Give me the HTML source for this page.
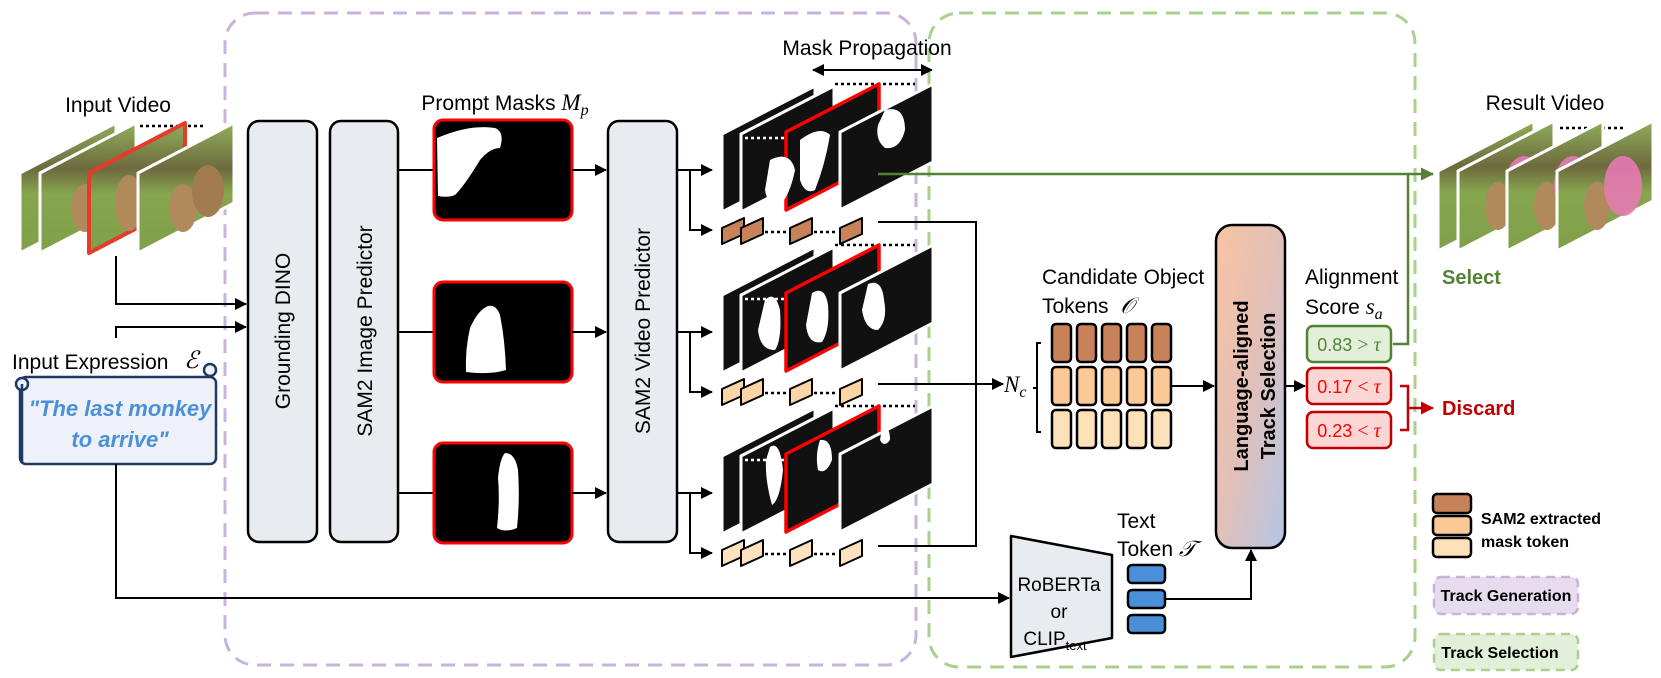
<!DOCTYPE html>
<html><head><meta charset="utf-8"><style>
html,body{margin:0;padding:0;background:#fff;}
svg{display:block;font-family:"Liberation Sans",sans-serif;}
</style></head><body>
<svg width="1661" height="678" viewBox="0 0 1661 678" xmlns="http://www.w3.org/2000/svg">
<defs>
<marker id="ah" markerWidth="12" markerHeight="12" refX="11" refY="6" orient="auto" markerUnits="userSpaceOnUse"><path d="M0,0 L12,6 L0,12 z" fill="#000"/></marker>
<marker id="ahs" markerWidth="12" markerHeight="12" refX="1" refY="6" orient="auto" markerUnits="userSpaceOnUse"><path d="M12,0 L0,6 L12,12 z" fill="#000"/></marker>
<marker id="ahg" markerWidth="13" markerHeight="13" refX="12" refY="6.5" orient="auto" markerUnits="userSpaceOnUse"><path d="M0,0 L13,6.5 L0,13 z" fill="#548235"/></marker>
<marker id="ahr" markerWidth="13" markerHeight="13" refX="12" refY="6.5" orient="auto" markerUnits="userSpaceOnUse"><path d="M0,0 L13,6.5 L0,13 z" fill="#c00000"/></marker>
<linearGradient id="tg" x1="0" y1="0" x2="1" y2="1"><stop offset="0" stop-color="#f8c3a2"/><stop offset="0.5" stop-color="#e2c0b8"/><stop offset="1" stop-color="#b3c6e6"/></linearGradient>
<linearGradient id="img" x1="0" y1="0" x2="0" y2="1"><stop offset="0" stop-color="#8fae5a"/><stop offset="0.35" stop-color="#6e6a3e"/><stop offset="0.55" stop-color="#86a64e"/><stop offset="1" stop-color="#7ea048"/></linearGradient>
<g id="frame"><polygon points="0,50 96,0 96,80 0,130" fill="url(#img)" stroke="#fff" stroke-width="3" stroke-linejoin="round"/><ellipse cx="45" cy="85" rx="14" ry="24" fill="#b08a5a"/><ellipse cx="70" cy="68" rx="16" ry="26" fill="#a27c50"/></g>
<g id="rframe"><polygon points="0,50 96,0 96,80 0,130" fill="url(#img)" stroke="#fff" stroke-width="3" stroke-linejoin="round"/><ellipse cx="40" cy="85" rx="13" ry="24" fill="#b08a5a"/><ellipse cx="66" cy="65" rx="19" ry="30" fill="#e57ab3" opacity="0.9"/></g>
<g id="mframe"><polygon points="0,48 93,0 93,78 0,126" fill="#111" stroke="#fff" stroke-width="3" stroke-linejoin="round"/></g>
</defs>

<rect x="225" y="13" width="691" height="652" rx="30" fill="none" stroke="#c9b3dc" stroke-width="3" stroke-dasharray="14,9"/>
<rect x="929" y="13" width="486" height="654" rx="30" fill="none" stroke="#a9d18e" stroke-width="3" stroke-dasharray="14,9"/>

<!-- Input video -->
<text x="118" y="112" font-size="21" text-anchor="middle">Input Video</text>
<line x1="140" y1="126" x2="205" y2="126" stroke="#000" stroke-width="2.5" stroke-dasharray="3,3"/>
<use href="#frame" x="20" y="123"/>
<use href="#frame" x="40" y="123"/>
<g transform="translate(89,123)"><polygon points="0,50 96,0 96,80 0,130" fill="url(#img)" stroke="#e83a2a" stroke-width="4" stroke-linejoin="round"/><ellipse cx="40" cy="80" rx="14" ry="28" fill="#b08a5a"/><ellipse cx="68" cy="65" rx="15" ry="26" fill="#a27c50"/></g>
<use href="#frame" x="138" y="123"/>

<polyline points="116,256 116,304 246,304" fill="none" stroke="#000" stroke-width="2" marker-end="url(#ah)"/>
<polyline points="116,338 116,327 246,327" fill="none" stroke="#000" stroke-width="2" marker-end="url(#ah)"/>

<!-- Input expression -->
<text x="12" y="369" font-size="21">Input Expression</text>
<text x="184" y="368" font-size="24" font-style="italic" font-family="Liberation Serif,serif">ℰ</text>
<rect x="20" y="377" width="196" height="87" rx="6" fill="#eef2f8" stroke="#1f3864" stroke-width="2.5"/>
<circle cx="22" cy="384" r="6" fill="#eef2f8" stroke="#1f3864" stroke-width="2.5"/>
<circle cx="210" cy="370" r="6" fill="#eef2f8" stroke="#1f3864" stroke-width="2.5"/>
<line x1="22" y1="384" x2="22" y2="462" stroke="#1f3864" stroke-width="2.5"/>
<text x="120" y="416" font-size="22" font-weight="bold" font-style="italic" fill="#4a90d9" text-anchor="middle">"The last monkey</text>
<text x="120" y="447" font-size="22" font-weight="bold" font-style="italic" fill="#4a90d9" text-anchor="middle">to arrive"</text>
<polyline points="116,464 116,598 1009,598" fill="none" stroke="#000" stroke-width="2" marker-end="url(#ah)"/>

<!-- main boxes -->
<rect x="248" y="121" width="69" height="421" rx="11" fill="#e8ebef" stroke="#000" stroke-width="2.5"/>
<text transform="translate(290,331) rotate(-90)" font-size="21" text-anchor="middle">Grounding DINO</text>
<rect x="330" y="121" width="68" height="421" rx="11" fill="#e8ebef" stroke="#000" stroke-width="2.5"/>
<text transform="translate(372,331) rotate(-90)" font-size="21" text-anchor="middle">SAM2 Image Predictor</text>
<rect x="608" y="121" width="69" height="421" rx="11" fill="#e8ebef" stroke="#000" stroke-width="2.5"/>
<text transform="translate(650,331) rotate(-90)" font-size="21" text-anchor="middle">SAM2 Video Predictor</text>

<!-- prompt masks -->
<text x="505" y="110" font-size="21" text-anchor="middle">Prompt Masks <tspan font-family="Liberation Serif,serif" font-style="italic" font-size="23">M</tspan><tspan font-family="Liberation Serif,serif" font-style="italic" font-size="16" dy="5">p</tspan></text>
<line x1="398" y1="170" x2="434" y2="170" stroke="#000" stroke-width="2"/>
<line x1="398" y1="332" x2="434" y2="332" stroke="#000" stroke-width="2"/>
<line x1="398" y1="493" x2="434" y2="493" stroke="#000" stroke-width="2"/>
<rect x="434" y="120" width="138" height="100" rx="9" fill="#000" stroke="#f00" stroke-width="3"/>
<path d="M437,138 Q470,124 495,128 Q505,132 500,148 Q490,148 480,160 Q465,185 455,195 Q448,198 438,196 Z" fill="#fff"/>
<rect x="434" y="282" width="138" height="100" rx="9" fill="#000" stroke="#f00" stroke-width="3"/>
<path d="M488,306 Q496,304 500,315 Q505,340 506,370 Q490,375 466,372 Q465,350 470,328 Q478,310 488,306 Z" fill="#fff"/>
<rect x="434" y="443" width="138" height="100" rx="9" fill="#000" stroke="#f00" stroke-width="3"/>
<path d="M505,453 Q515,453 518,470 Q520,500 517,528 Q505,533 497,528 Q500,500 498,478 Q500,458 505,453 Z" fill="#fff"/>
<line x1="572" y1="170" x2="606" y2="170" stroke="#000" stroke-width="2" marker-end="url(#ah)"/>
<line x1="572" y1="332" x2="606" y2="332" stroke="#000" stroke-width="2" marker-end="url(#ah)"/>
<line x1="572" y1="493" x2="606" y2="493" stroke="#000" stroke-width="2" marker-end="url(#ah)"/>

<!-- mask propagation -->
<text x="867" y="55" font-size="21" text-anchor="middle">Mask Propagation</text>
<line x1="813" y1="70" x2="932" y2="70" stroke="#000" stroke-width="2" marker-start="url(#ahs)" marker-end="url(#ah)"/>

<g id="stack">
<line x1="835" y1="84" x2="915" y2="84" stroke="#000" stroke-width="2.5" stroke-dasharray="3,3"/>
<use href="#mframe" x="722" y="86"/>
<use href="#mframe" x="741" y="86"/>
<line x1="745" y1="138" x2="835" y2="138" stroke="#fff" stroke-width="2.5" stroke-dasharray="3,3"/>
<g transform="translate(786,84)"><polygon points="0,48 93,0 93,78 0,126" fill="#111" stroke="#f00" stroke-width="3.5" stroke-linejoin="round"/></g>
<use href="#mframe" x="840" y="84"/>
</g>
<path d="M770,160 Q790,150 795,170 Q790,195 780,205 Q768,208 765,190 Z" fill="#fff"/>
<path d="M800,140 Q820,125 830,135 Q825,165 815,190 Q805,195 800,180 Z" fill="#fff"/>
<path d="M885,110 Q905,105 905,130 Q900,150 885,148 Q875,140 878,125 Z" fill="#fff"/>
<use href="#stack" y="161"/>
<path d="M765,300 Q775,290 780,310 Q782,340 775,350 Q760,350 758,330 Z" fill="#fff"/>
<path d="M812,293 Q825,285 828,305 Q830,330 822,342 Q808,345 806,325 Z" fill="#fff"/>
<path d="M868,284 Q882,278 884,300 Q888,320 878,330 Q865,330 862,310 Z" fill="#fff"/>
<use href="#stack" y="322"/>
<path d="M770,447 Q780,440 783,470 Q780,500 772,505 Q765,480 766,460 Z" fill="#fff"/>
<path d="M820,440 Q832,438 832,460 Q826,475 818,470 Q815,455 820,440 Z" fill="#fff"/>
<path d="M882,428 Q890,425 890,440 Q884,448 880,440 Z" fill="#fff"/>

<g stroke="#000" stroke-width="2" fill="none">
<line x1="677" y1="170" x2="712" y2="170" marker-end="url(#ah)"/>
<polyline points="690,170 690,230 712,230" marker-end="url(#ah)"/>
<line x1="677" y1="332" x2="712" y2="332" marker-end="url(#ah)"/>
<polyline points="690,332 690,392 712,392" marker-end="url(#ah)"/>
<line x1="677" y1="493" x2="712" y2="493" marker-end="url(#ah)"/>
<polyline points="690,493 690,553 712,553" marker-end="url(#ah)"/>
</g>

<g stroke="#000" stroke-width="2" stroke-linejoin="round" fill="#c8825a">
<polygon points="722,228 744,218 744,234 722,244"/>
<polygon points="741,228 763,218 763,234 741,244"/>
<polygon points="790,228 812,218 812,234 790,244"/>
<polygon points="840,228 862,218 862,234 840,244"/>
</g>
<line x1="765" y1="232" x2="788" y2="232" stroke="#000" stroke-width="2.5" stroke-dasharray="3,3"/>
<line x1="814" y1="232" x2="838" y2="232" stroke="#000" stroke-width="2.5" stroke-dasharray="3,3"/>
<g transform="translate(0,161)" stroke="#000" stroke-width="2" stroke-linejoin="round" fill="#fbd5a5">
<polygon points="722,228 744,218 744,234 722,244"/><polygon points="741,228 763,218 763,234 741,244"/><polygon points="790,228 812,218 812,234 790,244"/><polygon points="840,228 862,218 862,234 840,244"/>
<line x1="765" y1="232" x2="788" y2="232" stroke-width="2.5" stroke-dasharray="3,3"/><line x1="814" y1="232" x2="838" y2="232" stroke-width="2.5" stroke-dasharray="3,3"/>
</g>
<g transform="translate(0,322)" stroke="#000" stroke-width="2" stroke-linejoin="round" fill="#fde2bd">
<polygon points="722,228 744,218 744,234 722,244"/><polygon points="741,228 763,218 763,234 741,244"/><polygon points="790,228 812,218 812,234 790,244"/><polygon points="840,228 862,218 862,234 840,244"/>
<line x1="765" y1="232" x2="788" y2="232" stroke-width="2.5" stroke-dasharray="3,3"/><line x1="814" y1="232" x2="838" y2="232" stroke-width="2.5" stroke-dasharray="3,3"/>
</g>

<polyline points="878,222 976,222 976,546 878,546" fill="none" stroke="#000" stroke-width="2"/>
<line x1="878" y1="384" x2="1003" y2="384" stroke="#000" stroke-width="2" marker-end="url(#ah)"/>

<line x1="878" y1="174" x2="1433" y2="174" stroke="#548235" stroke-width="2.5" marker-end="url(#ahg)"/>
<polyline points="1393,344 1408,344 1408,174" fill="none" stroke="#548235" stroke-width="2.5"/>

<!-- candidate tokens -->
<text x="1042" y="284" font-size="21">Candidate Object</text>
<text x="1042" y="313" font-size="21">Tokens <tspan font-family="Liberation Serif,serif" font-style="italic" font-size="22" dx="6">𝒪</tspan></text>
<text x="1004" y="392" font-family="Liberation Serif,serif" font-style="italic" font-size="23">N<tspan font-size="16" dy="5">c</tspan></text>
<polyline points="1041,343 1037,343 1037,432 1041,432" fill="none" stroke="#000" stroke-width="2"/>
<line x1="1033" y1="388" x2="1037" y2="388" stroke="#000" stroke-width="2"/>
<g stroke="#000" stroke-width="2.5">
<g fill="#c8825a"><rect x="1052" y="324" width="19" height="38" rx="4"/><rect x="1077" y="324" width="19" height="38" rx="4"/><rect x="1102" y="324" width="19" height="38" rx="4"/><rect x="1127" y="324" width="19" height="38" rx="4"/><rect x="1152" y="324" width="19" height="38" rx="4"/></g>
<g fill="#fbc996"><rect x="1052" y="367" width="19" height="38" rx="4"/><rect x="1077" y="367" width="19" height="38" rx="4"/><rect x="1102" y="367" width="19" height="38" rx="4"/><rect x="1127" y="367" width="19" height="38" rx="4"/><rect x="1152" y="367" width="19" height="38" rx="4"/></g>
<g fill="#fde1b9"><rect x="1052" y="410" width="19" height="38" rx="4"/><rect x="1077" y="410" width="19" height="38" rx="4"/><rect x="1102" y="410" width="19" height="38" rx="4"/><rect x="1127" y="410" width="19" height="38" rx="4"/><rect x="1152" y="410" width="19" height="38" rx="4"/></g>
</g>
<line x1="1172" y1="386" x2="1214" y2="386" stroke="#000" stroke-width="2" marker-end="url(#ah)"/>

<rect x="1216" y="225" width="69" height="323" rx="16" fill="url(#tg)" stroke="#000" stroke-width="2.5"/>
<text transform="translate(1248,386) rotate(-90)" font-size="20" font-weight="bold" text-anchor="middle">Language-aligned</text>
<text transform="translate(1275,386) rotate(-90)" font-size="20" font-weight="bold" text-anchor="middle">Track Selection</text>
<line x1="1285" y1="386" x2="1305" y2="386" stroke="#000" stroke-width="2" marker-end="url(#ah)"/>

<!-- scores -->
<text x="1305" y="284" font-size="21">Alignment</text>
<text x="1305" y="314" font-size="21">Score <tspan font-family="Liberation Serif,serif" font-style="italic" font-size="23">s</tspan><tspan font-family="Liberation Serif,serif" font-style="italic" font-size="16" dy="5">a</tspan></text>
<rect x="1307" y="326" width="84" height="36" rx="6" fill="#e2efd9" stroke="#548235" stroke-width="2.5"/>
<text x="1349" y="351" font-size="18" fill="#548235" text-anchor="middle">0.83 <tspan font-family="Liberation Serif,serif" font-size="20">&gt; <tspan font-style="italic">τ</tspan></tspan></text>
<rect x="1307" y="368" width="84" height="36" rx="6" fill="#fcd5d5" stroke="#c00000" stroke-width="2.5"/>
<text x="1349" y="393" font-size="18" fill="#f00" text-anchor="middle">0.17 <tspan font-family="Liberation Serif,serif" font-size="20">&lt; <tspan font-style="italic">τ</tspan></tspan></text>
<rect x="1307" y="412" width="84" height="36" rx="6" fill="#fcd5d5" stroke="#c00000" stroke-width="2.5"/>
<text x="1349" y="437" font-size="18" fill="#f00" text-anchor="middle">0.23 <tspan font-family="Liberation Serif,serif" font-size="20">&lt; <tspan font-style="italic">τ</tspan></tspan></text>
<polyline points="1400,386 1408,386 1408,430 1400,430" fill="none" stroke="#c00000" stroke-width="2.5"/>
<line x1="1408" y1="408" x2="1433" y2="408" stroke="#c00000" stroke-width="2.5" marker-end="url(#ahr)"/>
<text x="1442" y="415" font-size="20" font-weight="bold" fill="#c00000">Discard</text>
<text x="1442" y="284" font-size="20" font-weight="bold" fill="#548235">Select</text>

<!-- result video -->
<text x="1545" y="110" font-size="21" text-anchor="middle">Result Video</text>
<line x1="1560" y1="128" x2="1625" y2="128" stroke="#000" stroke-width="2.5" stroke-dasharray="3,3"/>
<use href="#rframe" x="1438" y="121"/>
<use href="#rframe" x="1458" y="121"/>
<use href="#rframe" x="1507" y="121"/>
<use href="#rframe" x="1557" y="121"/>

<!-- text encoder -->
<polygon points="1011,536 1112,555 1112,638 1011,657" fill="#e8ebef" stroke="#000" stroke-width="2.5" stroke-linejoin="round"/>
<text x="1059" y="591" font-size="19" text-anchor="middle">RoBERTa</text>
<text x="1059" y="618" font-size="19" text-anchor="middle">or</text>
<text x="1055" y="645" font-size="19" text-anchor="middle">CLIP<tspan font-size="13" dy="5">text</tspan></text>
<text x="1117" y="528" font-size="21">Text</text>
<text x="1117" y="556" font-size="21">Token <tspan font-family="Liberation Serif,serif" font-style="italic" font-size="22">𝒯</tspan></text>
<g fill="#4a90d9" stroke="#000" stroke-width="2.5">
<rect x="1128" y="565" width="37" height="18" rx="4"/>
<rect x="1128" y="590" width="37" height="18" rx="4"/>
<rect x="1128" y="615" width="37" height="18" rx="4"/>
</g>
<polyline points="1165,599 1251,599 1251,550" fill="none" stroke="#000" stroke-width="2" marker-end="url(#ah)"/>

<!-- legend -->
<g stroke="#000" stroke-width="2.5">
<rect x="1433" y="494" width="38" height="19" rx="4" fill="#c8825a"/>
<rect x="1433" y="516" width="38" height="19" rx="4" fill="#fbc996"/>
<rect x="1433" y="538" width="38" height="19" rx="4" fill="#fde1b9"/>
</g>
<text x="1481" y="524" font-size="16" font-weight="bold">SAM2 extracted</text>
<text x="1481" y="547" font-size="16" font-weight="bold">mask token</text>
<rect x="1434" y="577" width="144" height="37" rx="7" fill="#e6dcee" stroke="#c9b3dc" stroke-width="2.5" stroke-dasharray="9,6"/>
<text x="1506" y="601" font-size="16" font-weight="bold" text-anchor="middle">Track Generation</text>
<rect x="1434" y="634" width="144" height="36" rx="7" fill="#e2f0d9" stroke="#a9d18e" stroke-width="2.5" stroke-dasharray="9,6"/>
<text x="1500" y="658" font-size="16" font-weight="bold" text-anchor="middle">Track Selection</text>
</svg>
</body></html>
